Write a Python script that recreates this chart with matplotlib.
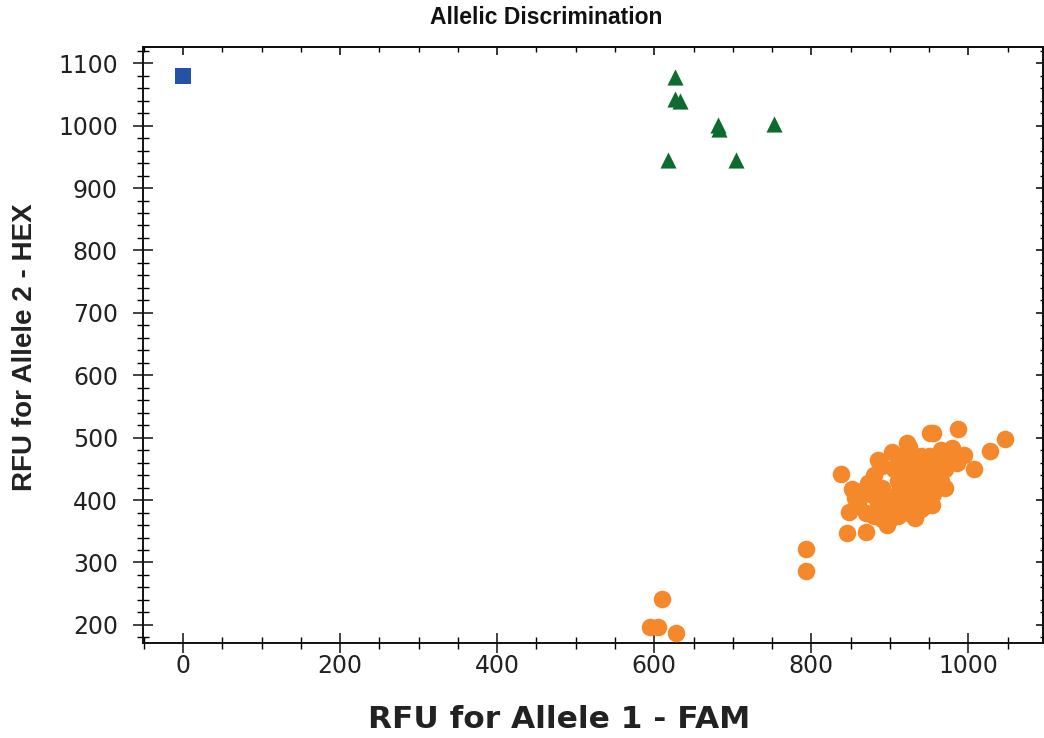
import matplotlib
matplotlib.use("Agg")
import matplotlib.pyplot as plt
from matplotlib.ticker import MultipleLocator
from matplotlib import font_manager

# ---- data ----
blue_x = [0]
blue_y = [1080]

green_x = [626, 627, 633, 681, 683, 752, 617, 704]
green_y = [1078, 1042, 1040, 1001, 994, 1003, 945, 945]

orange_x = [594, 605, 610, 628, 793, 793,
            838, 852, 872, 848, 845, 870, 885, 903, 922, 951, 896, 932, 856,
            955, 987, 1046, 1027, 1007, 979, 995, 954, 970,
            880, 890, 900, 910, 920, 930, 940, 950, 960, 905, 915, 925, 935,
            945, 955, 965, 895, 885, 875, 870, 900, 910, 930, 940, 950, 960,
            970, 975, 985, 965, 890, 860, 865, 880, 890, 910, 940, 950, 925,
            935, 945, 915, 925, 912, 928, 918, 938, 958]
orange_y = [197, 197, 242, 187, 322, 287,
            442, 418, 428, 381, 347, 349, 464, 477, 492, 508, 360, 371, 403,
            508, 514, 498, 479, 450, 483, 472, 392, 420,
            440, 420, 400, 430, 410, 440, 420, 450, 440, 450, 390, 380, 400,
            390, 410, 430, 385, 395, 410, 380, 370, 460, 460, 470, 470, 460,
            450, 470, 460, 480, 455, 395, 415, 375, 370, 375, 385, 400, 425,
            455, 440, 470, 485, 415, 395, 440, 430, 425]

title = "Allelic Discrimination"
xlabel = "RFU for Allele 1 - FAM"
ylabel = "RFU for Allele 2 - HEX"
xticks = [0, 200, 400, 600, 800, 1000]
yticks = [200, 300, 400, 500, 600, 700, 800, 900, 1000, 1100]

# ---- style ----
names = {f.name for f in font_manager.fontManager.ttflist}
base = "Liberation Sans" if "Liberation Sans" in names else "DejaVu Sans"
plt.rcParams['font.family'] = ['DejaVu Sans']

fig = plt.figure(figsize=(10.44, 7.38), dpi=100)
ax = fig.add_axes([143/1044, 1-643/738, (1043-143)/1044, (643-47)/738])

ax.scatter(orange_x, orange_y, s=160, c="#F5882A", marker="o", linewidths=0, zorder=3)
ax.scatter(green_x, green_y, s=135, c="#0E6B30", marker="^", linewidths=0, zorder=3)
ax.scatter(blue_x, blue_y, s=130, c="#2352A6", marker="s", linewidths=0, zorder=3)

ax.set_xlim(-51, 1095)
ax.set_ylim(171, 1126)
ax.set_xticks(xticks)
ax.set_yticks(yticks)
ax.xaxis.set_minor_locator(MultipleLocator(50))
ax.yaxis.set_minor_locator(MultipleLocator(20))

for s in ax.spines.values():
    s.set_linewidth(1.4)
    s.set_color("#111111")

ax.tick_params(which="major", direction="inout", length=14, width=1.1, labelsize=17,
               colors="#111111", top=False, right=False)
ax.tick_params(which="minor", direction="inout", length=8, width=1.0,
               top=False, right=False)
ax.tick_params(axis="x", which="major", pad=1)
ax.tick_params(axis="y", which="major", pad=11)
for lab in ax.get_xticklabels() + ax.get_yticklabels():
    lab.set_color("#222222")

sx = ax.secondary_xaxis("top")
sx.set_xticks(xticks)
sx.xaxis.set_minor_locator(MultipleLocator(50))
sx.tick_params(which="major", direction="in", length=6, width=1.1, labeltop=False)
sx.tick_params(which="minor", direction="in", length=3.5, width=1.0)
sx.spines["top"].set_linewidth(1.4)

sy = ax.secondary_yaxis("right")
sy.set_yticks(yticks)
sy.yaxis.set_minor_locator(MultipleLocator(20))
sy.tick_params(which="major", direction="in", length=5, width=1.1, labelright=False)
sy.tick_params(which="minor", direction="in", length=2.5, width=1.0)
sy.spines["right"].set_linewidth(1.4)

xl = ax.set_xlabel(xlabel, fontsize=22.5, fontweight="bold", color="#222222",
                   family="DejaVu Sans")
xl.set_va("center")
ax.xaxis.set_label_coords((559-143)/900, (643-720)/596)
yl = ax.set_ylabel(ylabel, fontsize=20, fontweight="bold", color="#222222",
                   family=[base, "DejaVu Sans"])
yl.set_va("center")
ax.yaxis.set_label_coords((25-143)/900, (643-347)/596)

fig.text(546/1044, 1-18/738, title, ha="center", va="center", fontsize=16.5,
         fontweight="bold", family=[base, "DejaVu Sans"], color="#111111")

fig.savefig("out.png", dpi=100, facecolor="white")
